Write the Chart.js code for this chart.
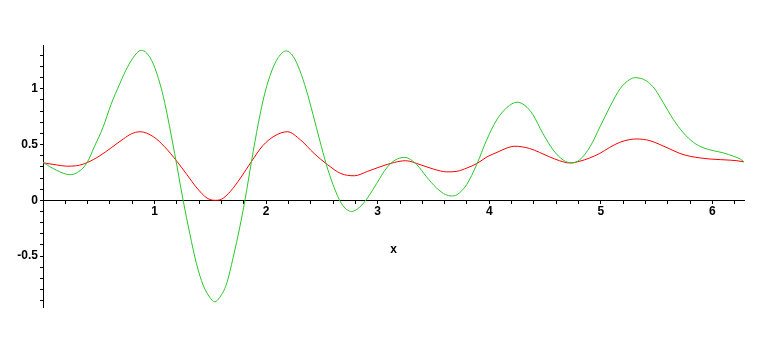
<!DOCTYPE html>
<html>
<head>
<meta charset="utf-8">
<script src="https://cdn.jsdelivr.net/npm/chart.js@4/dist/chart.umd.min.js"></script>
<style>
    html, body { margin: 0; padding: 0; background: #fff; }
    #wrap { width: 778px; height: 342px; }
</style>
</head>
<body>
<div id="wrap"><canvas id="plot"></canvas></div>
<script>

// red curve
const redX = [0, 0.12, 0.21, 0.30, 0.40, 0.51, 0.61, 0.72, 0.79, 0.87, 0.99, 1.09,
    1.20, 1.29, 1.38, 1.47, 1.54, 1.60, 1.68, 1.77, 1.87, 1.97, 2.08, 2.19,
    2.31, 2.43, 2.55, 2.67, 2.79, 2.91, 3.02, 3.15, 3.25, 3.38, 3.50, 3.62,
    3.71, 3.80, 3.89, 3.98, 4.07, 4.16, 4.23, 4.36, 4.45, 4.54, 4.63, 4.72,
    4.81, 4.90, 4.99, 5.08, 5.17, 5.26, 5.32, 5.44, 5.53, 5.62, 5.71, 5.80,
    5.89, 5.98, 6.07, 6.16, 6.22, 6.2832];
const redY = [0.336, 0.318, 0.306, 0.31, 0.34, 0.40, 0.47, 0.55, 0.595, 0.615, 0.57, 0.48,
    0.35, 0.23, 0.11, 0.02, 0.0, 0.01, 0.08, 0.20, 0.35, 0.49, 0.58, 0.615,
    0.54, 0.42, 0.32, 0.24, 0.22, 0.26, 0.30, 0.34, 0.355, 0.32, 0.28, 0.255,
    0.26, 0.29, 0.33, 0.39, 0.43, 0.47, 0.485, 0.465, 0.43, 0.39, 0.355, 0.335,
    0.35, 0.38, 0.42, 0.475, 0.52, 0.545, 0.55, 0.535, 0.50, 0.46, 0.42, 0.395,
    0.38, 0.37, 0.365, 0.36, 0.355, 0.345];

// green curve
const greenX = [0, 0.12, 0.24, 0.30, 0.39, 0.46, 0.54, 0.61, 0.69, 0.76, 0.84, 0.88,
    0.93, 0.99, 1.05, 1.09, 1.18, 1.256, 1.316, 1.376, 1.435, 1.495, 1.54, 1.585,
    1.645, 1.705, 1.764, 1.81, 1.869, 1.93, 1.988, 2.05, 2.108, 2.18, 2.243, 2.30,
    2.36, 2.42, 2.48, 2.54, 2.60, 2.676, 2.766, 2.84, 2.915, 2.99, 3.08, 3.155,
    3.24, 3.35, 3.438, 3.528, 3.61, 3.66, 3.71, 3.797, 3.887, 3.976, 4.066, 4.156, 4.25,
    4.32, 4.39, 4.48, 4.574, 4.664, 4.74, 4.813, 4.903, 4.993, 5.082, 5.172, 5.262,
    5.307, 5.41, 5.486, 5.56, 5.65, 5.74, 5.83, 5.92, 6.01, 6.10, 6.19, 6.25, 6.2832];
const greenY = [0.34, 0.27, 0.23, 0.245, 0.33, 0.48, 0.66, 0.86, 1.05, 1.20, 1.32, 1.345,
    1.32, 1.22, 1.04, 0.88, 0.42, 0.0, -0.30, -0.57, -0.76, -0.87, -0.91, -0.87,
    -0.75, -0.51, -0.24, 0.0, 0.35, 0.69, 0.96, 1.16, 1.28, 1.34, 1.29, 1.17,
    0.99, 0.77, 0.54, 0.32, 0.14, -0.03, -0.10, -0.06, 0.03, 0.15, 0.29, 0.36,
    0.385, 0.32, 0.21, 0.11, 0.05, 0.039, 0.05, 0.14, 0.32, 0.54, 0.72, 0.83, 0.88,
    0.85, 0.77, 0.60, 0.45, 0.36, 0.335, 0.365, 0.48, 0.66, 0.84, 1.0, 1.085,
    1.10, 1.07, 0.995, 0.875, 0.725, 0.605, 0.52, 0.47, 0.445, 0.425, 0.395, 0.37, 0.345];

const xMin = 0;
const xMax = 6.2832;
const yMin = -0.957;
const yMax = 1.393;

const toPoints = (xs, ys) => xs.map((x, i) => ({ x: x, y: ys[i] }));

const tickFont = { family: "'Liberation Sans', Arial, sans-serif", size: 12, weight: 'bold' };

new Chart(document.getElementById('plot'), {
    type: 'line',
    data: {
        datasets: [
            {
                data: toPoints(greenX, greenY),
                borderColor: 'rgb(40, 200, 40)',
                borderWidth: 1,
                pointRadius: 0,
                cubicInterpolationMode: 'monotone',
                fill: false
            },
            {
                data: toPoints(redX, redY),
                borderColor: 'rgb(255, 0, 0)',
                borderWidth: 1,
                pointRadius: 0,
                cubicInterpolationMode: 'monotone',
                fill: false
            }
        ]
    },
    options: {
        responsive: true,
        maintainAspectRatio: false,
        animation: false,
        layout: {
            padding: { left: 0, top: 45, right: 34, bottom: 35 }
        },
        plugins: {
            legend: { display: false },
            tooltip: { enabled: false }
        },
        scales: {
            x: {
                type: 'linear',
                min: xMin,
                max: xMax,
                position: { y: 0 },
                border: { color: '#000', width: 1 },
                grid: { drawOnChartArea: false, drawTicks: true, tickLength: 3, color: '#000' },
                ticks: {
                    stepSize: 0.2,
                    includeBounds: false,
                    autoSkip: false,
                    maxRotation: 0,
                    padding: 1,
                    color: '#000',
                    font: tickFont,
                    callback: (v) => (v !== 0 && Math.abs(v - Math.round(v)) < 1e-6) ? String(Math.round(v)) : ''
                },
                title: {
                    display: true,
                    text: 'x',
                    color: '#000',
                    font: tickFont,
                    padding: { top: 23, bottom: 0 }
                }
            },
            y: {
                type: 'linear',
                min: yMin,
                max: yMax,
                position: 'left',
                afterFit: (scale) => { scale.width = 43; },
                border: { color: '#000', width: 1 },
                grid: { drawOnChartArea: false, drawTicks: true, tickLength: 3, color: '#000' },
                ticks: {
                    stepSize: 0.1,
                    includeBounds: false,
                    autoSkip: false,
                    padding: 2,
                    color: '#000',
                    font: tickFont,
                    callback: (v) => Math.abs(v * 2 - Math.round(v * 2)) < 1e-6 ? String(Math.round(v * 2) / 2) : ''
                }
            }
        }
    }
});
</script>
</body>
</html>
